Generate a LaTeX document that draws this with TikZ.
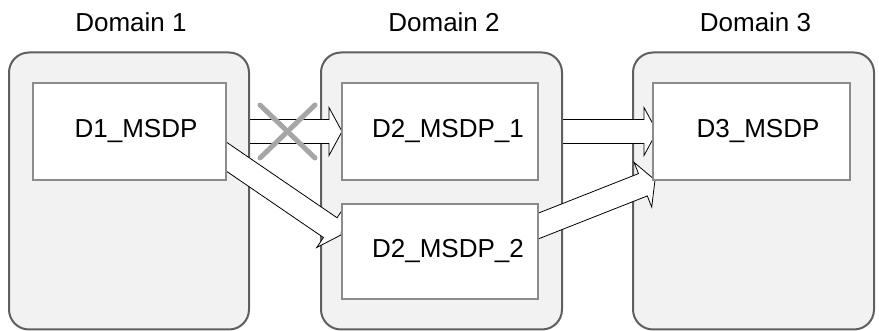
\documentclass[tikz,border=0pt]{standalone}
\usepackage{fontspec}
\setmainfont{Liberation Sans}
\usetikzlibrary{calc}
\definecolor{domfill}{HTML}{F2F2F2}
\definecolor{domline}{HTML}{5F5F5F}
\definecolor{boxline}{HTML}{8C8C8C}
\definecolor{crossc}{HTML}{A6A6A6}
\newcommand{\blockarrow}[2]{%
  \coordinate (neck) at ($(#2)!13pt!(#1)$);
  \draw[blockarr] ($(#1)!12pt!90:(#2)$) -- ($(neck)!12pt!90:(#2)$) -- ($(neck)!24pt!90:(#2)$) -- (#2)
    -- ($(neck)!24pt!-90:(#2)$) -- ($(neck)!12pt!-90:(#2)$) -- ($(#1)!12pt!-90:(#2)$) -- cycle;}
\begin{document}
\begin{tikzpicture}[x=1pt,y=-1pt,
  font=\fontsize{26}{30}\selectfont,
  dombox/.style={draw=domline, line width=2pt, fill=domfill, rounded corners=20pt,
    minimum height=277pt, inner sep=0pt},
  msdp/.style={draw=boxline, line width=2pt, fill=white, minimum width=195pt, inner sep=0pt},
  title/.style={anchor=base, inner sep=0pt},
  blockarr/.style={draw=black, line width=0.8pt, fill=white, line join=miter},
  crossline/.style={draw=crossc, line width=5pt, line cap=round}]
\useasboundingbox (0,0) rectangle (879,331);
% arrow end points
\coordinate (a1s) at (240,131.5);
\coordinate (a1e) at (342,131.5);
\coordinate (a3s) at (550,131.5);
\coordinate (a3e) at (657,131.5);
\coordinate (a2s) at (201.3,139.5);
\coordinate (a2e) at (341,235);
\coordinate (a4s) at (511,236.8);
\coordinate (a4e) at (655,180);
% titles
\node[title] (t1) at (131,32) {Domain 1};
\node[title] (t2) at (444,32) {Domain 2};
\node[title] (t3) at (755.5,32) {Domain 3};
% domains and horizontal arrows, in stacking order
\node[dombox, minimum width=241pt] (dom3) at (753.5,191) {};
\blockarrow{a3s}{a3e}
\node[dombox, minimum width=241pt] (dom2) at (441.5,191) {};
\blockarrow{a1s}{a1e}
\node[dombox, minimum width=240pt] (dom1) at (129,191) {};
% diagonal arrows
\blockarrow{a2s}{a2e}
\blockarrow{a4s}{a4e}
% inner boxes
\node[msdp, minimum width=193pt, minimum height=97pt,
  label={[xshift=6.5pt]center:D1\_MSDP}] (d1) at (129.5,131.5) {};
\node[msdp, minimum width=196pt, minimum height=97pt,
  label={[xshift=8pt]center:D2\_MSDP\_1}] (d21) at (440,131.5) {};
\node[msdp, minimum width=196pt, minimum height=95pt,
  label={[xshift=8pt]center:D2\_MSDP\_2}] (d22) at (440,251.5) {};
\node[msdp, minimum width=197pt, minimum height=97pt,
  label={[xshift=6.5pt]center:D3\_MSDP}] (d3) at (751.5,131.5) {};
% cross over the blocked arrow
\coordinate (xc) at (287.5,131.5);
\draw[crossline] ($(xc)+(-27.5,-26.5)$) -- ($(xc)+(27.5,26.5)$);
\draw[crossline] ($(xc)+(-27.5,26.5)$) -- ($(xc)+(27.5,-26.5)$);
\end{tikzpicture}
\end{document}
